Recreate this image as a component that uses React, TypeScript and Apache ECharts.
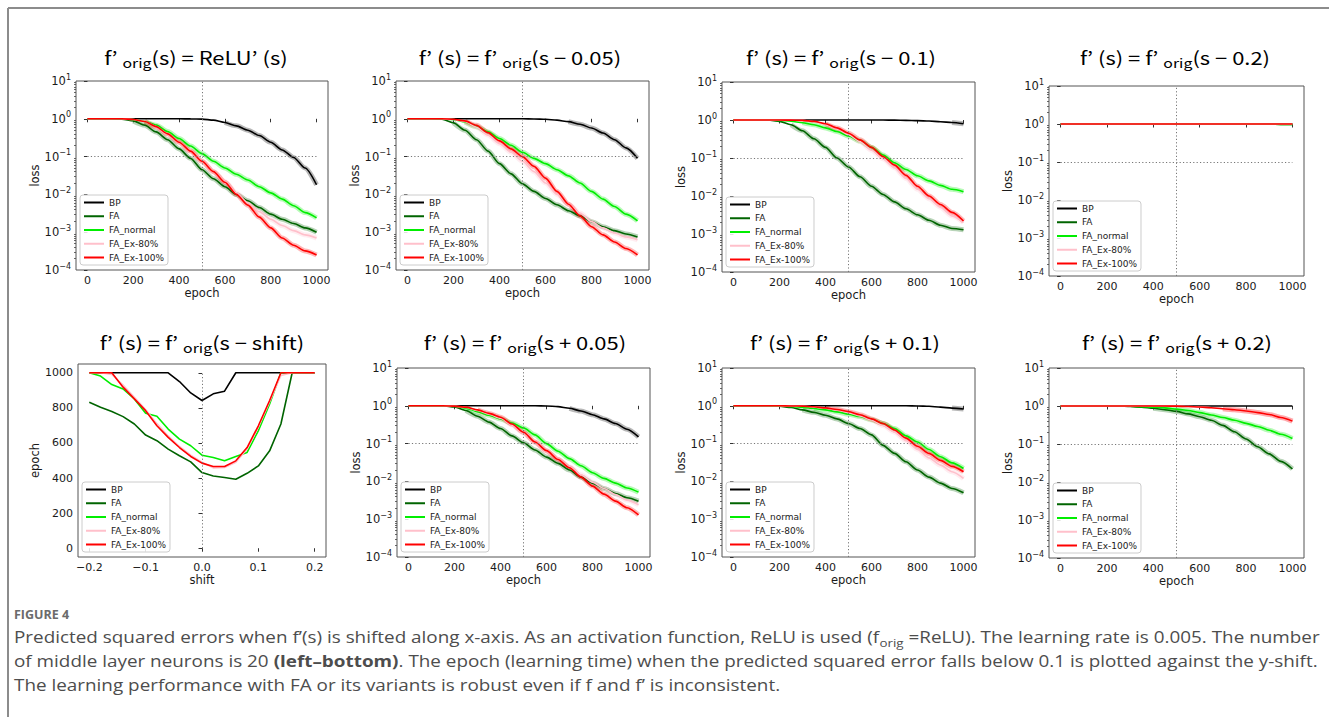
import React, { useEffect, useRef } from 'react';
import * as echarts from 'echarts';

// ---------- data ----------
const EPOCHS = [0, 50, 100, 150, 200, 250, 300, 350, 400, 450, 500, 550, 600, 650, 700, 750, 800, 850, 900, 950, 1000];
const SHIFTS = [-0.2, -0.18, -0.16, -0.14, -0.12, -0.1, -0.08, -0.06, -0.04, -0.02, 0, 0.02, 0.04, 0.06, 0.08, 0.1, 0.12, 0.14, 0.16, 0.18, 0.2];
const EPOCH_TICKS = [0, 200, 400, 600, 800, 1000];
const SHIFT_TICKS = [-0.2, -0.1, 0, 0.1, 0.2];
const SERIES_NAMES = ['BP', 'FA', 'FA_normal', 'FA_Ex-80%', 'FA_Ex-100%'];
const SERIES_COLORS = ['#000000', '#006400', '#00ee00', '#ffc0cb', '#ff0000'];

// f'orig(s) = ReLU'(s)
const P1_BP = [1, 1, 1, 1, 1, 1, 1, 1, 1, 0.995, 0.98, 0.92, 0.8, 0.65, 0.5, 0.36, 0.24, 0.15, 0.095, 0.05, 0.018];
const P1_FA = [1, 1, 1, 0.98, 0.88, 0.68, 0.45, 0.28, 0.16, 0.09, 0.045, 0.026, 0.016, 0.01, 0.0068, 0.0045, 0.003, 0.0022, 0.0017, 0.0013, 0.001];
const P1_FAN = [1, 1, 1, 1, 0.95, 0.85, 0.68, 0.46, 0.3, 0.19, 0.12, 0.075, 0.05, 0.034, 0.024, 0.016, 0.011, 0.0075, 0.005, 0.0033, 0.0024];
const P1_EX80 = [1, 1, 1, 1, 0.96, 0.85, 0.62, 0.4, 0.24, 0.14, 0.075, 0.04, 0.022, 0.011, 0.006, 0.0035, 0.0022, 0.0015, 0.0011, 0.00085, 0.0007];
const P1_EX100 = [1, 1, 1, 1, 0.96, 0.85, 0.62, 0.4, 0.24, 0.14, 0.075, 0.04, 0.021, 0.01, 0.0052, 0.0025, 0.0013, 0.0007, 0.00045, 0.00032, 0.00025];

// s - 0.05
const P2_BP = [1, 1, 1, 1, 1, 1, 1, 1, 1, 1, 1, 0.99, 0.97, 0.92, 0.84, 0.72, 0.57, 0.42, 0.28, 0.17, 0.09];
const P2_FA = [1, 1, 1, 0.97, 0.78, 0.5, 0.28, 0.14, 0.065, 0.035, 0.019, 0.012, 0.0078, 0.0053, 0.0037, 0.0027, 0.0019, 0.0014, 0.0011, 0.0009, 0.00075];
const P2_FAN = [1, 1, 1, 1, 0.95, 0.82, 0.62, 0.45, 0.3, 0.2, 0.13, 0.09, 0.065, 0.045, 0.031, 0.02, 0.012, 0.0075, 0.0048, 0.003, 0.002];
const P2_EX80 = [1, 1, 1, 1, 0.96, 0.85, 0.6, 0.37, 0.22, 0.13, 0.075, 0.04, 0.02, 0.01, 0.0055, 0.0032, 0.0019, 0.0013, 0.00095, 0.00075, 0.00063];
const P2_EX100 = [1, 1, 1, 1, 0.97, 0.88, 0.67, 0.43, 0.26, 0.16, 0.1, 0.055, 0.027, 0.012, 0.0055, 0.0027, 0.0014, 0.00085, 0.00055, 0.00037, 0.00025];

// s - 0.1
const P3_BP = [1, 1, 1, 1, 1, 1, 1, 1, 1, 1, 1, 1, 1, 1, 0.99, 0.98, 0.96, 0.94, 0.9, 0.86, 0.8];
const P3_FA = [1, 1, 1, 1, 0.92, 0.75, 0.52, 0.32, 0.19, 0.1, 0.058, 0.032, 0.018, 0.011, 0.007, 0.0046, 0.0032, 0.0023, 0.0017, 0.0014, 0.0013];
const P3_FAN = [1, 1, 1, 1, 0.98, 0.93, 0.85, 0.75, 0.62, 0.5, 0.38, 0.28, 0.19, 0.12, 0.075, 0.05, 0.034, 0.025, 0.019, 0.015, 0.013];
const P3_EX80 = [1, 1, 1, 1, 1, 0.99, 0.98, 0.9, 0.76, 0.58, 0.41, 0.27, 0.16, 0.095, 0.055, 0.029, 0.015, 0.0085, 0.005, 0.003, 0.002];
const P3_EX100 = [1, 1, 1, 1, 1, 0.99, 0.98, 0.92, 0.8, 0.62, 0.45, 0.3, 0.19, 0.11, 0.065, 0.035, 0.018, 0.01, 0.006, 0.0037, 0.0022];

// s - 0.2
const P4_BP = [1, 1, 1, 1, 1, 1, 1, 1, 1, 1, 1, 1, 1, 1, 1, 1, 1, 1, 1, 1, 1];
const P4_FA = [1, 1, 1, 1, 1, 1, 1, 1, 1, 1, 1, 1, 1, 1, 1, 1, 0.995, 0.99, 0.985, 0.98, 0.97];
const P4_FAN = [1, 1, 1, 1, 1, 1, 1, 1, 1, 1, 1, 1, 1, 1, 1, 1, 0.995, 0.99, 0.985, 0.98, 0.975];
const P4_EX80 = [1, 1, 1, 1, 1, 1, 1, 1, 1, 1, 1, 1, 1, 1, 1, 1, 1, 1, 1, 1, 1];
const P4_EX100 = [1, 1, 1, 1, 1, 1, 1, 1, 1, 1, 1, 1, 1, 1, 1, 1, 1, 1, 1, 1, 1];

// epoch at which loss < 0.1 vs shift
const S_BP = [1000, 1000, 1000, 1000, 1000, 1000, 1000, 1000, 950, 885, 842, 880, 895, 1000, 1000, 1000, 1000, 1000, 1000, 1000, 1000];
const S_FA = [832, 803, 779, 750, 708, 645, 613, 565, 527, 492, 431, 412, 403, 393, 427, 469, 555, 708, 1000, 1000, 1000];
const S_FAN = [1000, 981, 933, 908, 851, 769, 752, 679, 622, 584, 530, 517, 498, 523, 546, 670, 822, 1000, 1000, 1000, 1000];
const S_EX80 = [1000, 1000, 990, 930, 860, 790, 710, 640, 580, 530, 490, 458, 460, 490, 565, 690, 835, 985, 1000, 1000, 1000];
const S_EX100 = [1000, 1000, 1000, 918, 851, 784, 698, 632, 574, 523, 485, 466, 466, 498, 574, 698, 842, 1000, 1000, 1000, 1000];

// s + 0.05
const P6_BP = [1, 1, 1, 1, 1, 1, 1, 1, 1, 1, 1, 1, 0.99, 0.95, 0.86, 0.73, 0.58, 0.45, 0.34, 0.24, 0.15];
const P6_FA = [1, 1, 1, 1, 0.93, 0.75, 0.53, 0.37, 0.25, 0.16, 0.105, 0.068, 0.044, 0.03, 0.02, 0.013, 0.009, 0.0065, 0.0048, 0.0037, 0.003];
const P6_FAN = [1, 1, 1, 1, 0.97, 0.87, 0.7, 0.56, 0.45, 0.35, 0.26, 0.17, 0.1, 0.063, 0.04, 0.026, 0.017, 0.012, 0.009, 0.0067, 0.0052];
const P6_EX80 = [1, 1, 1, 1, 0.98, 0.9, 0.75, 0.6, 0.47, 0.31, 0.19, 0.105, 0.062, 0.038, 0.024, 0.015, 0.0095, 0.0065, 0.0045, 0.0032, 0.0024];
const P6_EX100 = [1, 1, 1, 1, 0.98, 0.92, 0.78, 0.63, 0.5, 0.33, 0.2, 0.11, 0.065, 0.038, 0.023, 0.013, 0.0075, 0.0046, 0.003, 0.002, 0.0013];

// s + 0.1
const P7_BP = [1, 1, 1, 1, 1, 1, 1, 1, 1, 1, 1, 1, 1, 1, 1, 1, 0.99, 0.97, 0.92, 0.87, 0.82];
const P7_FA = [1, 1, 1, 1, 0.97, 0.9, 0.78, 0.67, 0.56, 0.45, 0.34, 0.25, 0.17, 0.09, 0.055, 0.033, 0.02, 0.013, 0.009, 0.0065, 0.005];
const P7_FAN = [1, 1, 1, 1, 0.99, 0.96, 0.91, 0.85, 0.78, 0.69, 0.6, 0.52, 0.43, 0.34, 0.25, 0.16, 0.11, 0.07, 0.045, 0.031, 0.022];
const P7_EX80 = [1, 1, 1, 1, 1, 0.99, 0.98, 0.93, 0.86, 0.77, 0.66, 0.54, 0.42, 0.3, 0.2, 0.12, 0.07, 0.042, 0.027, 0.018, 0.012];
const P7_EX100 = [1, 1, 1, 1, 1, 0.99, 0.98, 0.94, 0.88, 0.8, 0.7, 0.58, 0.45, 0.34, 0.23, 0.14, 0.085, 0.055, 0.036, 0.025, 0.018];

// s + 0.2
const P8_BP = [1, 1, 1, 1, 1, 1, 1, 1, 1, 1, 1, 1, 1, 1, 1, 1, 1, 1, 1, 1, 1];
const P8_FA = [1, 1, 1, 1, 1, 1, 0.97, 0.93, 0.87, 0.8, 0.72, 0.62, 0.52, 0.42, 0.31, 0.21, 0.135, 0.085, 0.055, 0.035, 0.022];
const P8_FAN = [1, 1, 1, 1, 1, 1, 0.99, 0.96, 0.93, 0.89, 0.83, 0.76, 0.67, 0.58, 0.5, 0.42, 0.35, 0.29, 0.23, 0.18, 0.14];
const P8_EX80 = [1, 1, 1, 1, 1, 1, 1, 1, 1, 1, 0.99, 0.97, 0.94, 0.9, 0.85, 0.8, 0.74, 0.67, 0.6, 0.5, 0.4];
const P8_EX100 = [1, 1, 1, 1, 1, 1, 1, 1, 1, 1, 0.99, 0.97, 0.94, 0.9, 0.85, 0.8, 0.74, 0.67, 0.6, 0.5, 0.4];

const TITLES = [
  'f{q|’}{s|orig}(s) = ReLU{q|’}(s)',
  'f{q|’}(s) = f{q|’}{s|orig}(s − 0.05)',
  'f{q|’}(s) = f{q|’}{s|orig}(s − 0.1)',
  'f{q|’}(s) = f{q|’}{s|orig}(s − 0.2)',
  'f{q|’}(s) = f{q|’}{s|orig}(s − shift)',
  'f{q|’}(s) = f{q|’}{s|orig}(s + 0.05)',
  'f{q|’}(s) = f{q|’}{s|orig}(s + 0.1)',
  'f{q|’}(s) = f{q|’}{s|orig}(s + 0.2)',
];

const CAPTION_HEAD = 'FIGURE 4';
const CAPTION_LINES = [
  'Predicted squared errors when f’(s) is shifted along x-axis. As an activation function, ReLU is used (f{s|orig} =ReLU). The learning rate is 0.005. The number',
  'of middle layer neurons is 20 {b|(left–bottom)}. The epoch (learning time) when the predicted squared error falls below 0.1 is plotted against the y-shift.',
  'The learning performance with FA or its variants is robust even if f and f’ is inconsistent.',
];

// ---------- layout ----------
type Panel = { kind: 'log' | 'shift'; data: number[][]; box: number[]; titleX: number; titleY: number };
const PANELS: Panel[] = [
  { kind: 'log', data: [P1_BP, P1_FA, P1_FAN, P1_EX80, P1_EX100], box: [76, 81, 252, 189], titleX: 196, titleY: 57 },
  { kind: 'log', data: [P2_BP, P2_FA, P2_FAN, P2_EX80, P2_EX100], box: [396, 81, 253, 189], titleX: 520, titleY: 57 },
  { kind: 'log', data: [P3_BP, P3_FA, P3_FAN, P3_EX80, P3_EX100], box: [722, 82, 253, 190], titleX: 841, titleY: 57 },
  { kind: 'log', data: [P4_BP, P4_FA, P4_FAN, P4_EX80, P4_EX100], box: [1049, 86, 255, 190], titleX: 1175, titleY: 57 },
  { kind: 'shift', data: [S_BP, S_FA, S_FAN, S_EX80, S_EX100], box: [78, 364, 248, 193], titleX: 202, titleY: 342 },
  { kind: 'log', data: [P6_BP, P6_FA, P6_FAN, P6_EX80, P6_EX100], box: [397, 368, 253, 189], titleX: 525, titleY: 342 },
  { kind: 'log', data: [P7_BP, P7_FA, P7_FAN, P7_EX80, P7_EX100], box: [722, 368, 253, 189], titleX: 845, titleY: 342 },
  { kind: 'log', data: [P8_BP, P8_FA, P8_FAN, P8_EX80, P8_EX100], box: [1049, 368, 255, 190], titleX: 1177, titleY: 342 },
];
const MINOR_MULTIPLIERS = [2, 3, 4, 5, 6, 7, 8, 9];
const DECADES = [-4, -3, -2, -1, 0];

const FONT_AX = 'DejaVu Sans';
const TEXT_COLOR = '#1a1a1a';
const FRAME = '#555555';

function fmtExp(v: number): string {
  const e = Math.round(Math.log10(v));
  const s = e < 0 ? '−' + String(-e) : String(e);
  return '10{sup|' + s + '}';
}
function fmtShift(v: number): string {
  const s = Math.abs(v).toFixed(1);
  return v < -1e-9 ? '−' + s : s;
}

function buildOption() {
  const grid: any[] = [];
  const xAxis: any[] = [];
  const yAxis: any[] = [];
  const series: any[] = [];
  const legend: any[] = [];
  const graphic: any[] = [];

  const minorPositions: number[] = [];
  DECADES.forEach((d) => MINOR_MULTIPLIERS.forEach((m) => minorPositions.push(d + Math.log10(m))));

  PANELS.forEach((p, i) => {
    const [left, top, width, height] = p.box;
    grid.push({ left, top, width, height, show: true, borderColor: FRAME, borderWidth: 1, backgroundColor: 'transparent' });
    const isLog = p.kind === 'log';
    const tickStyle = { show: true, length: 3.5, lineStyle: { color: '#333', width: 1 } };
    const labelBase = { fontSize: 11, fontFamily: FONT_AX, color: TEXT_COLOR };
    const nameStyle = { fontSize: 11.5, fontFamily: FONT_AX, color: TEXT_COLOR };
    xAxis.push({
      gridIndex: i,
      type: 'value',
      min: isLog ? -50 : -0.22,
      max: isLog ? 1050 : 0.22,
      name: isLog ? 'epoch' : 'shift',
      nameLocation: 'middle',
      nameGap: 16,
      nameTextStyle: nameStyle,
      axisLine: { show: false },
      axisTick: { ...tickStyle, customValues: isLog ? EPOCH_TICKS : SHIFT_TICKS },
      axisLabel: {
        ...labelBase,
        margin: 5,
        customValues: isLog ? EPOCH_TICKS : SHIFT_TICKS,
        formatter: isLog ? (v: number) => String(v) : (v: number) => fmtShift(v),
      },
      splitLine: { show: false },
    });
    if (isLog) {
      yAxis.push({
        gridIndex: i,
        type: 'log',
        logBase: 10,
        min: 0.0001,
        max: 10,
        name: 'loss',
        nameLocation: 'middle',
        nameGap: 28,
        nameTextStyle: nameStyle,
        axisLine: { show: false },
        axisTick: tickStyle,
        axisLabel: {
          ...labelBase,
          fontSize: 11.5,
          margin: 5,
          lineHeight: 16,
          formatter: fmtExp,
          rich: { sup: { fontSize: 8, lineHeight: 8, verticalAlign: 'top', fontFamily: FONT_AX, color: TEXT_COLOR } },
        },
        splitLine: { show: false },
      });
    } else {
      yAxis.push({
        gridIndex: i,
        type: 'value',
        min: -50,
        max: 1050,
        name: 'epoch',
        nameLocation: 'middle',
        nameGap: 31,
        nameTextStyle: nameStyle,
        axisLine: { show: false },
        axisTick: { ...tickStyle, customValues: EPOCH_TICKS },
        axisLabel: { ...labelBase, margin: 5, customValues: EPOCH_TICKS, formatter: (v: number) => String(v) },
        splitLine: { show: false },
      });
    }

    const xs = isLog ? EPOCHS : SHIFTS;
    if (isLog) {
      p.data.forEach((vals, k) => {
        series.push({
          type: 'line',
          xAxisIndex: i,
          yAxisIndex: i,
          data: xs.map((x, j) => [x, vals[j] >= 0.9 ? null : vals[j]]),
          connectNulls: false,
          symbol: 'none',
          smooth: 0.25,
          smoothMonotone: 'x',
          silent: true,
          lineStyle: { color: SERIES_COLORS[k], width: 5, opacity: 0.28 },
          z: 1,
        });
      });
    }
    p.data.forEach((vals, k) => {
      const s: any = {
        type: 'line',
        name: SERIES_NAMES[k],
        xAxisIndex: i,
        yAxisIndex: i,
        data: xs.map((x, j) => [x, vals[j]]),
        symbol: 'none',
        smooth: isLog ? 0.25 : false,
        smoothMonotone: 'x',
        lineStyle: { color: SERIES_COLORS[k], width: 1.6 },
        itemStyle: { color: SERIES_COLORS[k] },
        z: 2,
      };
      if (k === 0) {
        s.markLine = {
          silent: true,
          symbol: ['none', 'none'],
          label: { show: false },
          lineStyle: { type: [1.2, 2.2], color: '#777', width: 1 },
          data: isLog
            ? [
                [{ coord: [0, 0.1] }, { coord: [1000, 0.1] }],
                [{ coord: [500, 0.0001] }, { coord: [500, 10] }],
              ]
            : [[{ coord: [0, 0] }, { coord: [0, 1000] }]],
        };
      }
      series.push(s);
    });

    legend.push({
      orient: 'vertical',
      left: left + 4,
      top: top + height - 75,
      data: SERIES_NAMES,
      selectedMode: false,
      icon: 'rect',
      itemWidth: 20,
      itemHeight: 2,
      itemGap: 4.75,
      padding: [3, 4, 3, 4],
      borderColor: '#cccccc',
      borderWidth: 1,
      borderRadius: 3,
      backgroundColor: 'rgba(255,255,255,0.85)',
      textStyle: { fontSize: 9, fontFamily: FONT_AX, color: TEXT_COLOR },
    });

    graphic.push({
      type: 'text',
      x: p.titleX,
      y: p.titleY,
      scaleX: 1.22,
      style: {
        text: TITLES[i],
        fontSize: 18,
        lineHeight: 24,
        fontFamily: 'Noto Sans CJK JP',
        fill: '#000',
        align: 'center',
        verticalAlign: 'middle',
        rich: {
          s: { fontSize: 13, lineHeight: 12, verticalAlign: 'bottom', fontFamily: 'Noto Sans CJK JP', fill: '#000' },
          q: { fontSize: 18, lineHeight: 24, padding: [0, 4, 0, 0], fontFamily: 'Noto Sans CJK JP', fill: '#000' },
        },
      },
    });
  });

  // minor ticks for log axes (overlay axes in exponent space)
  PANELS.forEach((p, i) => {
    if (p.kind !== 'log') return;
    yAxis.push({
      gridIndex: i,
      type: 'value',
      position: 'left',
      offset: 0,
      min: -4,
      max: 1,
      axisLine: { show: false },
      axisLabel: { show: false },
      splitLine: { show: false },
      axisTick: { show: true, length: 2, lineStyle: { color: '#444', width: 0.8 }, customValues: minorPositions },
    });
  });

  // border
  graphic.push({ type: 'line', shape: { x1: 8, y1: 8, x2: 1329, y2: 8 }, style: { stroke: '#8c8c8c', lineWidth: 2 } });
  graphic.push({ type: 'line', shape: { x1: 8, y1: 8, x2: 8, y2: 717 }, style: { stroke: '#8c8c8c', lineWidth: 2 } });

  // caption
  graphic.push({
    type: 'text',
    x: 14,
    y: 614,
    style: { text: CAPTION_HEAD, fontSize: 12.5, fontWeight: 'bold', fontFamily: 'Open Sans', fill: '#6b6b6b', verticalAlign: 'middle' },
  });
  CAPTION_LINES.forEach((t, i) => {
    graphic.push({
      type: 'text',
      x: 14,
      y: 637 + i * 24,
      scaleX: 1.218,
      style: {
        text: t,
        fontSize: 15.5,
        lineHeight: 22,
        fontFamily: 'Open Sans',
        fill: '#4d4d4d',
        verticalAlign: 'middle',
        rich: {
          s: { fontSize: 11, lineHeight: 10, verticalAlign: 'bottom', fontFamily: 'Open Sans', fill: '#4d4d4d' },
          b: { fontSize: 15.5, fontWeight: 'bold', fontFamily: 'Open Sans', fill: '#4d4d4d', lineHeight: 22 },
        },
      },
    });
  });

  return {
    animation: false,
    backgroundColor: '#ffffff',
    grid,
    xAxis,
    yAxis,
    series,
    legend,
    graphic,
  };
}

export default function App() {
  const ref = useRef<HTMLDivElement>(null);
  useEffect(() => {
    if (!ref.current) return;
    const chart = echarts.init(ref.current, null, { renderer: 'svg' });
    chart.setOption(buildOption() as any);
    return () => chart.dispose();
  }, []);
  return <div ref={ref} style={{ position: 'absolute', left: 0, top: 0, width: 1329, height: 717 }} />;
}
